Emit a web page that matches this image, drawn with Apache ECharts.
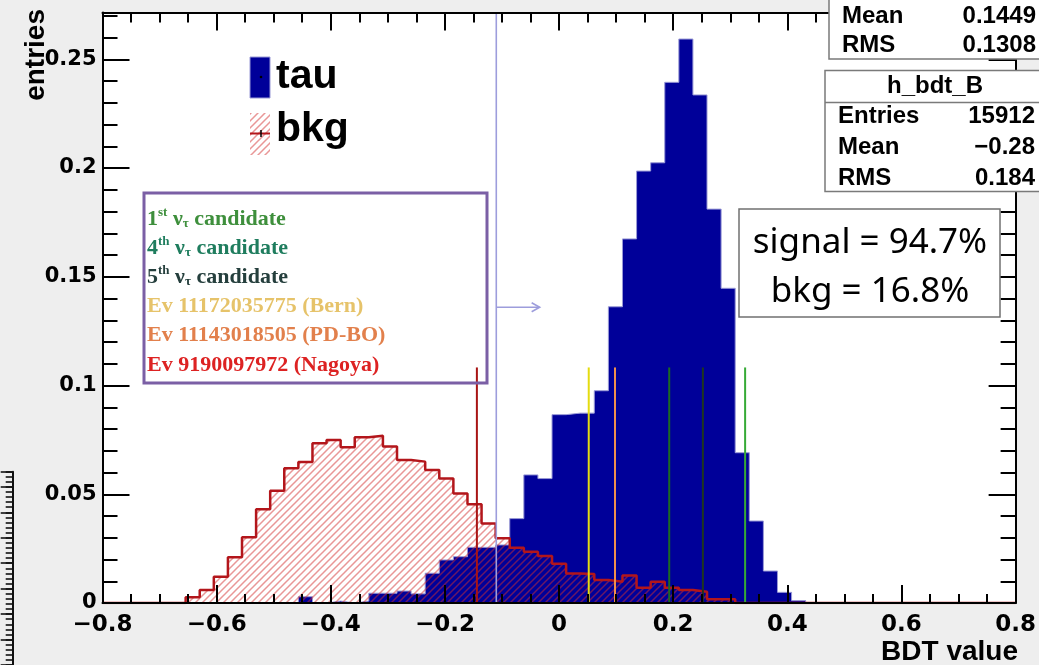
<!DOCTYPE html>
<html>
<head>
<meta charset="utf-8">
<title>BDT value</title>
<script src="https://cdn.jsdelivr.net/npm/echarts/dist/echarts.min.js"></script>
<style>
  html, body { margin: 0; padding: 0; background: #eeeeee; }
  #chart { width: 1039px; height: 665px; }
</style>
</head>
<body>
<div id="chart"></div>
<script>
// ---- binning: 81 equal bins spanning [-1, 1] ----
const BIN_LOW = -1;
const BIN_HIGH = 1;
const N_BINS = 81;

// tau (signal) normalised bin contents, first entry is bin TAU_FIRST_BIN
const TAU_FIRST_BIN = 22;
const tauValues = [
  0.0029, 0.0000, 0.0009, 0.0000, 0.0009, 0.0045, 0.0045, 0.0055, 0.0042,
  0.0137, 0.0198, 0.0213, 0.0256, 0.0256, 0.0267, 0.0388, 0.0589, 0.0572,
  0.0866, 0.0873, 0.0873, 0.0976, 0.1362, 0.1674, 0.1986, 0.2024, 0.2394,
  0.2593, 0.2336, 0.1811, 0.1447, 0.0691, 0.0377, 0.0147, 0.0049, 0.0011
];

// background normalised bin contents, first entry is bin BKG_FIRST_BIN
const BKG_FIRST_BIN = 14;
const bkgValues = [
  0.0026, 0.0060, 0.0121, 0.0210, 0.0302, 0.0431, 0.0516, 0.0619, 0.0648,
  0.0734, 0.0749, 0.0716, 0.0762, 0.0769, 0.0719, 0.0657, 0.0650, 0.0611,
  0.0573, 0.0504, 0.0454, 0.0366, 0.0298, 0.0254, 0.0236, 0.0216, 0.0180,
  0.0136, 0.0133, 0.0106, 0.0098, 0.0126, 0.0070, 0.0098, 0.0070, 0.0060,
  0.0052, 0.0017, 0.0017
];

// axis ranges
const X_MIN = -0.8, X_MAX = 0.8, X_STEP = 0.2;
const Y_MIN = 0, Y_MAX = 0.2715, Y_STEP = 0.05, Y_MINOR = 0.01;

// BDT cut and its arrow
const CUT_BDT = -0.11;
const CUT_ARROW_Y = 0.136;
const CUT_ARROW_TIP = -0.034;

// neutrino-tau candidates and other events
const candidateLabels = [
  '{n|1}{sup|st}{n| ν}{sub|τ}{n| candidate}',
  '{n|4}{sup|th}{n| ν}{sub|τ}{n| candidate}',
  '{n|5}{sup|th}{n| ν}{sub|τ}{n| candidate}',
  '{n|Ev 11172035775 (Bern)}',
  '{n|Ev 11143018505 (PD-BO)}',
  '{n|Ev 9190097972 (Nagoya)}'
];
const candidateTextColors = ['#3e8f3c', '#1f7d5e', '#253f3d', '#e6c36a', '#e2804c', '#dd2222'];
const candidateBDT = [0.326, 0.193, 0.252, 0.052, 0.098, -0.144];
const candidateLineColors = ['#36aa36', '#1c6a22', '#1e361e', '#e4dc10', '#f0904c', '#a81414'];
const CANDIDATE_MARK_TOP = 0.1083;

// statistics boxes
const statsSignal = [['Mean', '0.1449'], ['RMS', '0.1308']];
const statsBkgTitle = 'h_bdt_B';
const statsBkg = [['Entries', '15912'], ['Mean', '\u22120.28'], ['RMS', '0.184']];
const efficiencyLines = ['signal = 94.7%', 'bkg = 16.8%'];

// ---- helpers ----
const binWidth = (BIN_HIGH - BIN_LOW) / N_BINS;
const edge = k => BIN_LOW + k * binWidth;

// points for a step outline (step turns at the end of each segment)
function stepPoints(firstBin, values) {
  const pts = [[X_MIN, 0], [edge(firstBin), 0]];
  values.forEach((v, i) => pts.push([edge(firstBin + i), v]));
  pts.push([edge(firstBin + values.length), 0]);
  pts.push([X_MAX, 0]);
  return pts;
}

function hatchCanvas(color, size, width) {
  const c = document.createElement('canvas');
  c.width = size; c.height = size;
  const g = c.getContext('2d');
  g.strokeStyle = color;
  g.lineWidth = width;
  g.beginPath();
  g.moveTo(-1, size + 1); g.lineTo(size + 1, -1);
  g.moveTo(-1, 1); g.lineTo(1, -1);
  g.moveTo(size - 1, size + 1); g.lineTo(size + 1, size - 1);
  g.stroke();
  return c;
}
const hatch = { image: hatchCanvas('rgba(212,48,48,0.5)', 7, 1.5), repeat: 'repeat' };

const fmtTick = v => {
  const r = +(+v).toFixed(3);
  if (r === 0) return '0';
  return (r < 0 ? '\u2212' : '') + String(Math.abs(r));
};

const AXIS_FONT = 'DejaVu Sans';
const BOX_FONT = 'Liberation Sans';

// ---- axes ----
const frameLine = { show: true, onZero: false, lineStyle: { color: '#000', width: 2 } };
const noLine = { show: false, onZero: false };
function xAxisDef(position, showLabel, minorLen) {
  return {
    type: 'value', gridIndex: 0, position, min: X_MIN, max: X_MAX, interval: X_STEP, z: 10,
    axisLine: frameLine,
    axisTick: { show: true, inside: true, length: 18, lineStyle: { color: '#000', width: 2 } },
    minorTick: { show: true, splitNumber: 4, length: minorLen, lineStyle: { color: '#000', width: 2 } },
    splitLine: { show: false }, minorSplitLine: { show: false },
    axisLabel: {
      show: showLabel, formatter: fmtTick, color: '#000', margin: 11,
      fontFamily: AXIS_FONT, fontWeight: 'bold', fontSize: 23
    }
  };
}
function yAxisDef(position, interval, tickLen, showLabel, showLine) {
  return {
    type: 'value', gridIndex: 0, position, min: Y_MIN, max: Y_MAX, interval, z: 10,
    axisLine: showLine ? frameLine : noLine,
    axisTick: { show: true, inside: true, length: tickLen, lineStyle: { color: '#000', width: 2 } },
    splitLine: { show: false },
    axisLabel: {
      show: showLabel, formatter: fmtTick, color: '#000', margin: 6, showMaxLabel: false,
      fontFamily: AXIS_FONT, fontWeight: 'bold', fontSize: 21
    }
  };
}

// partial neighbouring axis at the left page edge
const edgeAxisMajor = {
  type: 'value', gridIndex: 1, position: 'left', min: 0, max: 7.593, interval: 1,
  axisLine: { show: true, onZero: false, lineStyle: { color: '#111', width: 2 } },
  axisTick: { show: true, inside: false, length: 12, lineStyle: { color: '#111', width: 1.6 } },
  axisLabel: { show: false }, splitLine: { show: false }
};
const edgeAxisMinor = {
  type: 'value', gridIndex: 1, position: 'left', min: 0, max: 7.593, interval: 0.2,
  axisLine: noLine,
  axisTick: { show: true, inside: false, length: 7, lineStyle: { color: '#111', width: 1.6 } },
  axisLabel: { show: false }, splitLine: { show: false }
};

// ---- text / box decorations ----
function statText(x, y, text, align) {
  return {
    type: 'text', x, y, z: 101,
    style: { text, fill: '#000', font: 'bold 24px "' + BOX_FONT + '"', align, verticalAlign: 'middle' }
  };
}

const graphics = [];
// axis titles
graphics.push({
  type: 'text', x: 36, y: 9, rotation: Math.PI / 2, z: 20,
  style: { text: 'entries', fill: '#000', font: 'bold 28px "' + BOX_FONT + '"', align: 'right', verticalAlign: 'middle' }
});
graphics.push({
  type: 'text', x: 1018, y: 652, z: 20,
  style: { text: 'BDT value', fill: '#000', font: 'bold 28px "' + BOX_FONT + '"', align: 'right', verticalAlign: 'middle' }
});

// legend
graphics.push({ type: 'rect', z: 20, shape: { x: 250, y: 57, width: 20, height: 41 },
  style: { fill: '#000099', stroke: '#9a9ad6', lineWidth: 1 } });
graphics.push({ type: 'circle', z: 21, shape: { cx: 261, cy: 77, r: 1.3 }, style: { fill: '#000' } });
graphics.push({ type: 'text', x: 276, y: 77, z: 20,
  style: { text: 'tau', fill: '#000', font: 'bold 41px "' + BOX_FONT + '"', verticalAlign: 'middle' } });
graphics.push({ type: 'rect', z: 20, shape: { x: 250, y: 113, width: 20, height: 42 }, style: { fill: hatch } });
graphics.push({ type: 'line', z: 21, shape: { x1: 250, y1: 133.5, x2: 270, y2: 133.5 },
  style: { stroke: '#b3161b', lineWidth: 2 } });
graphics.push({ type: 'line', z: 22, shape: { x1: 261, y1: 130, x2: 261, y2: 137 },
  style: { stroke: '#000', lineWidth: 1.5 } });
graphics.push({ type: 'text', x: 276, y: 130, z: 20,
  style: { text: 'bkg', fill: '#000', font: 'bold 41px "' + BOX_FONT + '"', verticalAlign: 'middle' } });

// candidate list box
graphics.push({ type: 'rect', z: 20, shape: { x: 144, y: 193, width: 343, height: 190 },
  style: { fill: null, stroke: '#7b5fa5', lineWidth: 3 } });
candidateLabels.forEach((lab, i) => {
  const c = candidateTextColors[i];
  const serif = '"Liberation Serif"';
  graphics.push({
    type: 'text', x: 147, y: 218 + i * 29.2, z: 21,
    style: {
      text: lab, verticalAlign: 'middle', align: 'left',
      rich: {
        n: { fill: c, fontFamily: serif, fontWeight: 'bold', fontSize: 22, lineHeight: 24, verticalAlign: 'bottom' },
        sup: { fill: c, fontFamily: serif, fontWeight: 'bold', fontSize: 13, lineHeight: 13, verticalAlign: 'top' },
        sub: { fill: c, fontFamily: serif, fontWeight: 'bold', fontSize: 13, lineHeight: 10, verticalAlign: 'bottom' }
      }
    }
  });
});

// efficiency box
graphics.push({ type: 'rect', z: 100, shape: { x: 739, y: 209, width: 261, height: 108 },
  style: { fill: '#fff', stroke: '#707070', lineWidth: 1.5 } });
efficiencyLines.forEach((t, i) => graphics.push({
  type: 'text', x: 870, y: 243 + i * 49, z: 101,
  style: { text: t, fill: '#000', font: '35px "Noto Sans"', align: 'center', verticalAlign: 'middle' }
}));

// statistics box of the signal histogram (upper part is off the page)
graphics.push({ type: 'rect', z: 100, shape: { x: 829, y: -60, width: 240, height: 119 },
  style: { fill: '#fff', stroke: '#7a7a7a', lineWidth: 1.5 } });
statsSignal.forEach((row, i) => {
  graphics.push(statText(842, 16 + i * 29, row[0], 'left'));
  graphics.push(statText(1036, 16 + i * 29, row[1], 'right'));
});

// statistics box of the background histogram
graphics.push({ type: 'rect', z: 100, shape: { x: 825, y: 70.5, width: 240, height: 121 },
  style: { fill: '#fff', stroke: '#7a7a7a', lineWidth: 1.5 } });
graphics.push({ type: 'line', z: 101, shape: { x1: 825, y1: 102.5, x2: 1039, y2: 102.5 },
  style: { stroke: '#7a7a7a', lineWidth: 1.5 } });
graphics.push(statText(935, 86, statsBkgTitle, 'center'));
statsBkg.forEach((row, i) => {
  graphics.push(statText(838, 116 + i * 31, row[0], 'left'));
  graphics.push(statText(1035, 116 + i * 31, row[1], 'right'));
});

// ---- chart ----
const chart = echarts.init(document.getElementById('chart'), null, { renderer: 'canvas' });
chart.setOption({
  animation: false,
  backgroundColor: '#eeeeee',
  grid: [
    { left: 102.5, right: 22, top: 12.5, bottom: 62, show: true, backgroundColor: '#ffffff', borderWidth: 0 },
    { left: 12.7, width: 5, top: 471.7, bottom: -30.7, show: false }
  ],
  xAxis: [
    xAxisDef('bottom', true, 9),
    xAxisDef('top', false, 10),
    { type: 'value', gridIndex: 1, show: false, min: 0, max: 1 }
  ],
  yAxis: [
    yAxisDef('left', Y_STEP, 27, true, true),
    yAxisDef('left', Y_MINOR, 15, false, false),
    yAxisDef('right', Y_STEP, 27, false, true),
    yAxisDef('right', Y_MINOR, 15, false, false),
    edgeAxisMajor,
    edgeAxisMinor
  ],
  graphic: { elements: graphics },
  series: [
    {
      name: 'tau', type: 'line', xAxisIndex: 0, yAxisIndex: 0, z: 2,
      step: 'end', showSymbol: false, symbol: 'none', clip: true,
      data: stepPoints(TAU_FIRST_BIN, tauValues),
      lineStyle: { color: '#9a9ad6', width: 1 },
      areaStyle: { color: '#000099', opacity: 1 }
    },
    {
      name: 'bkg', type: 'line', xAxisIndex: 0, yAxisIndex: 0, z: 3,
      step: 'end', showSymbol: false, symbol: 'none', clip: true,
      data: stepPoints(BKG_FIRST_BIN, bkgValues),
      lineStyle: { color: '#b3161b', width: 2.5 },
      areaStyle: { color: hatch, opacity: 1 }
    },
    {
      name: 'candidates', type: 'custom', xAxisIndex: 0, yAxisIndex: 0, z: 5,
      data: candidateBDT.map((x, i) => [x, CANDIDATE_MARK_TOP, i]),
      renderItem: (params, api) => {
        const x = api.value(0), top = api.value(1), i = api.value(2);
        const p0 = api.coord([x, 0]), p1 = api.coord([x, top]);
        return { type: 'line', shape: { x1: p0[0], y1: p0[1], x2: p1[0], y2: p1[1] },
          style: { stroke: candidateLineColors[i], lineWidth: 2 } };
      }
    },
    {
      name: 'cut', type: 'custom', xAxisIndex: 0, yAxisIndex: 0, z: 6,
      data: [[CUT_BDT, CUT_ARROW_Y, CUT_ARROW_TIP]],
      renderItem: (params, api) => {
        const x = api.value(0), ay = api.value(1), tip = api.value(2);
        const b = api.coord([x, Y_MIN]), t = api.coord([x, Y_MAX]);
        const a0 = api.coord([x, ay]), a1 = api.coord([tip, ay]);
        const st = { stroke: '#9d9ddc', lineWidth: 1.6, fill: null };
        return { type: 'group', children: [
          { type: 'line', shape: { x1: b[0], y1: b[1], x2: t[0], y2: t[1] }, style: st },
          { type: 'line', shape: { x1: a0[0], y1: a0[1], x2: a1[0], y2: a1[1] }, style: st },
          { type: 'polyline', shape: { points: [[a1[0] - 8, a1[1] - 4.5], [a1[0], a1[1]], [a1[0] - 8, a1[1] + 4.5]] }, style: st }
        ] };
      }
    }
  ]
});
</script>
</body>
</html>
